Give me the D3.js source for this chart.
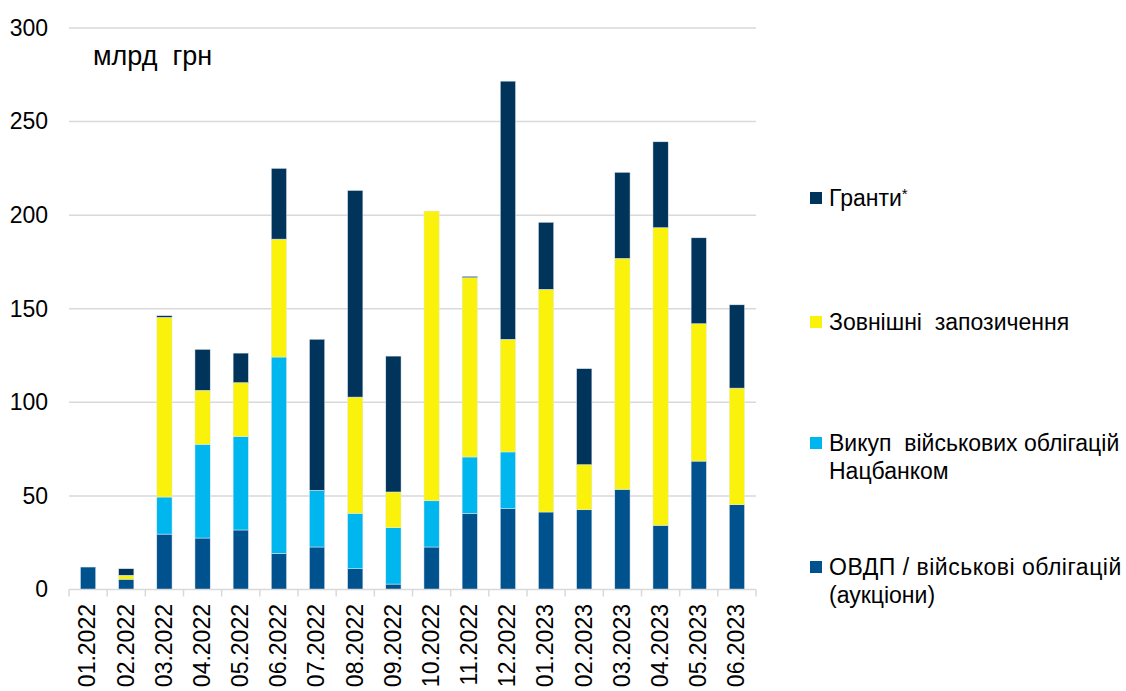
<!DOCTYPE html>
<html>
<head>
<meta charset="utf-8">
<script src="https://cdn.jsdelivr.net/npm/d3@7/dist/d3.min.js"></script>
<style>
  html, body { margin: 0; padding: 0; background: #fff; }
  svg { display: block; font-family: "Liberation Sans", Arial, sans-serif; }
</style>
</head>
<body>
<svg id="chart" width="1126" height="691"></svg>
<script>
const categories = ["01.2022","02.2022","03.2022","04.2022","05.2022","06.2022","07.2022","08.2022","09.2022","10.2022","11.2022","12.2022","01.2023","02.2023","03.2023","04.2023","05.2023","06.2023"];
const ovdp     = [12, 5.5, 29.6, 27.5, 31.8, 19.3, 22.7, 11.1, 2.9, 22.7, 40.7, 43.2, 41.4, 42.6, 53.5, 34.3, 68.6, 45.3];
const nbu      = [0, 0, 19.8, 50.1, 50.0, 104.9, 30.3, 29.6, 30.1, 24.7, 30.1, 30.3, 0, 0, 0, 0, 0, 0];
const external = [0, 2.1, 96.0, 28.8, 28.7, 63.0, 0, 62.1, 19.1, 154.8, 95.8, 60.2, 119.0, 24.1, 123.4, 159.0, 73.4, 62.3];
const grants   = [0, 3.5, 0.9, 21.9, 15.8, 37.8, 80.7, 110.4, 72.6, 0, 0.7, 137.9, 35.8, 51.3, 46.0, 45.9, 45.9, 44.5];
const yTicks = [0, 50, 100, 150, 200, 250, 300];
const seriesNames = ["ОВДП / військові облігацій (аукціони)", "Викуп військових облігацій Нацбанком", "Зовнішні запозичення", "Гранти*"];
const unitLabel = "млрд  грн";

const colors = ["#00528E", "#00B6EF", "#FAF20A", "#01345B"];
const legendLines = [
  ["Гранти"],
  ["Зовнішні  запозичення"],
  ["Викуп  військових облігацій", "Нацбанком"],
  ["ОВДП / військові облігацій", "(аукціони)"]
];
const legendSeriesIdx = [3, 2, 1, 0];

const svg = d3.select("#chart");
const x0 = 69, x1 = 756, yBottom = 589.5, yTop = 28;

const x = d3.scaleBand().domain(categories).range([x0, x1]).paddingInner(0.6).paddingOuter(0.3);
const y = d3.scaleLinear().domain([0, 300]).range([yBottom, yTop]);

// gridlines
svg.append("g").selectAll("line").data(yTicks.filter(d => d > 0)).join("line")
  .attr("x1", x0).attr("x2", x1)
  .attr("y1", d => y(d)).attr("y2", d => y(d))
  .attr("stroke", "#d9d9d9").attr("stroke-width", 1.5);

// y axis labels
const yAxis = d3.axisLeft(y).tickValues(yTicks).tickSize(0).tickPadding(0);
const gy = svg.append("g").attr("transform", `translate(${48},0)`).call(yAxis);
gy.select(".domain").remove();
gy.selectAll("text").attr("font-size", 23).attr("fill", "#000")
  .attr("font-family", "Liberation Sans, Arial, sans-serif");

// stacked bars
const rows = categories.map((c, i) => ({cat: c, s0: ovdp[i], s1: nbu[i], s2: external[i], s3: grants[i]}));
const stack = d3.stack().keys(["s0", "s1", "s2", "s3"]);
const stacked = stack(rows);

svg.append("g").selectAll("g").data(stacked).join("g")
  .attr("fill", (d, i) => colors[i])
  .selectAll("rect").data(d => d.filter(p => p[1] - p[0] > 0)).join("rect")
  .attr("x", d => x(d.data.cat))
  .attr("width", x.bandwidth())
  .attr("y", d => y(d[1]))
  .attr("height", d => y(d[0]) - y(d[1]))
  .attr("stroke", "#e3e9f0").attr("stroke-width", 0.5);

// x axis
const xAxisG = svg.append("g");
xAxisG.append("line").attr("x1", x0).attr("x2", x1).attr("y1", yBottom).attr("y2", yBottom)
  .attr("stroke", "#d9d9d9").attr("stroke-width", 1.5);
const boundaries = categories.map(c => x(c) - x.step() * x.paddingInner() / 2);
boundaries.push(x1);
boundaries[0] = x0;
xAxisG.selectAll("line.tk").data(boundaries).join("line").attr("class", "tk")
  .attr("x1", d => d).attr("x2", d => d).attr("y1", yBottom).attr("y2", yBottom + 7)
  .attr("stroke", "#d9d9d9").attr("stroke-width", 1.5);
xAxisG.selectAll("text").data(categories).join("text")
  .attr("transform", d => `translate(${x(d) + x.bandwidth() / 2 - 1},${604}) rotate(-90)`)
  .attr("text-anchor", "end").attr("dy", "0.36em")
  .attr("font-size", 23).attr("fill", "#000")
  .text(d => d);

// unit label
svg.append("text").attr("x", 93).attr("y", 65).attr("font-size", 27).attr("fill", "#000")
  .style("white-space", "pre").text(unitLabel);

// legend
const legendY = [198, 322, 443, 567];
const lg = svg.append("g");
legendSeriesIdx.forEach((si, k) => {
  const cy = legendY[k];
  lg.append("rect").attr("x", 810).attr("y", cy - 6).attr("width", 12).attr("height", 12).attr("fill", colors[si]);
  legendLines[k].forEach((t, j) => {
    const tx = lg.append("text").attr("x", 829).attr("y", cy + 8 + j * 28)
      .attr("font-size", 23).attr("fill", "#000")
      .style("white-space", "pre")
      .style("letter-spacing", (k === 3 && j === 0) ? "0.5px" : "0px");
    tx.append("tspan").text(t);
    if (k === 0) {
      tx.append("tspan").attr("font-size", 15).attr("dy", -7).text("*");
    }
  });
});
</script>
</body>
</html>
